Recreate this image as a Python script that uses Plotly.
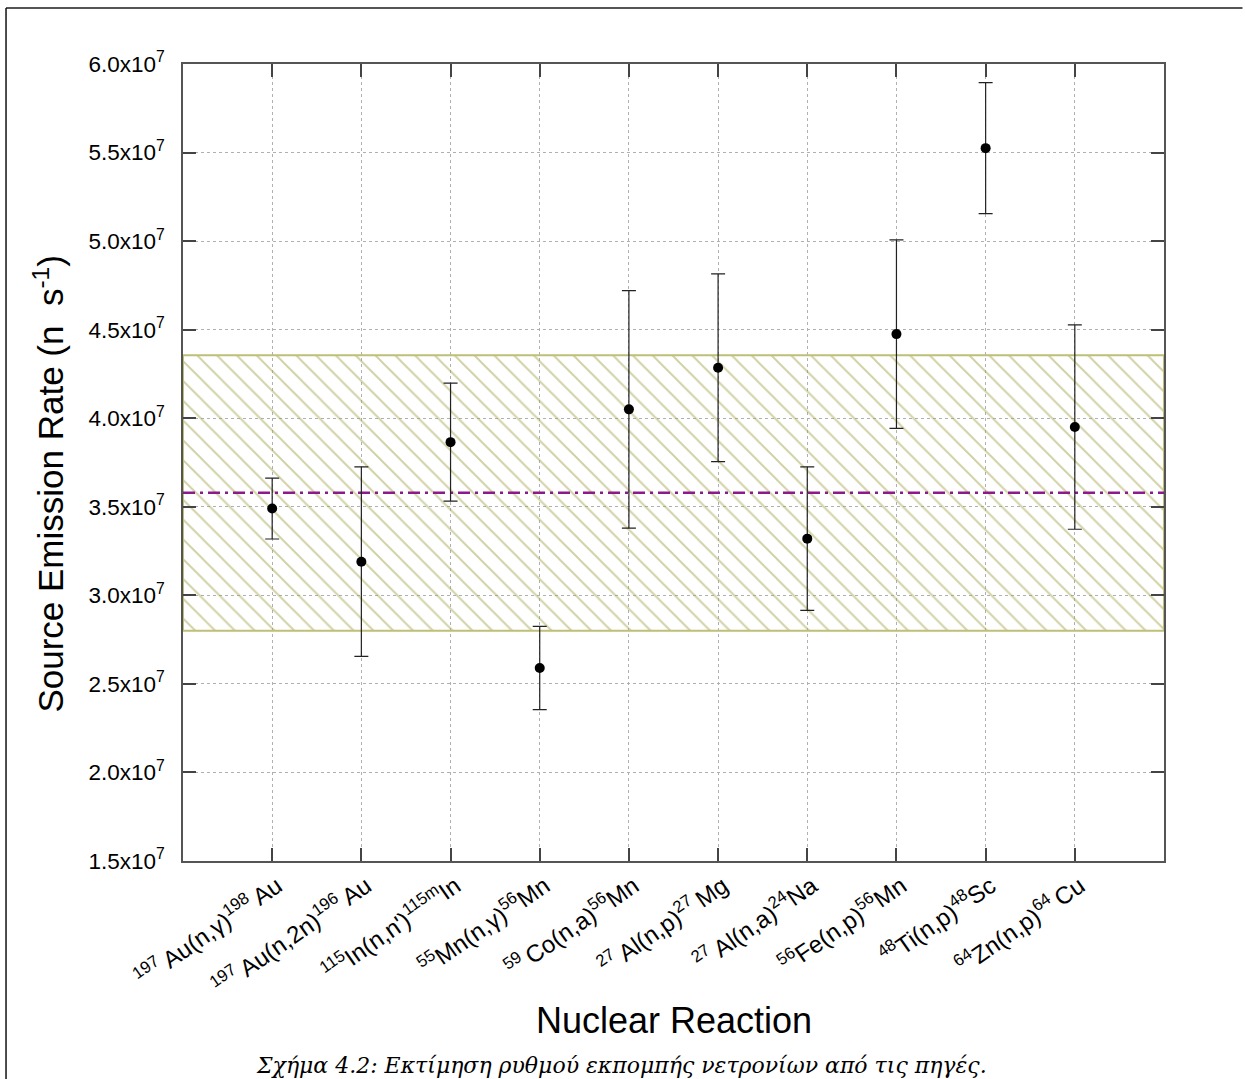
import plotly.graph_objects as go

# ---------------- data ----------------
reactions = [
    "<sup>197 </sup>Au(n,γ)<sup>198 </sup>Au",
    "<sup>197 </sup>Au(n,2n)<sup>196 </sup>Au",
    "<sup>115</sup>In(n,n')<sup>115m</sup>In",
    "<sup>55</sup>Mn(n,γ)<sup>56</sup>Mn",
    "<sup>59 </sup>Co(n,a)<sup>56</sup>Mn",
    "<sup>27 </sup>Al(n,p)<sup>27 </sup>Mg",
    "<sup>27 </sup>Al(n,a)<sup>24</sup>Na",
    "<sup>56</sup>Fe(n,p)<sup>56</sup>Mn",
    "<sup>48</sup>Ti(n,p)<sup>48</sup>Sc",
    "<sup>64</sup>Zn(n,p)<sup>64 </sup>Cu",
]
positions = [1, 2, 3, 4, 5, 6, 7, 8, 9, 10]
rates = [3.49e7, 3.19e7, 3.865e7, 2.59e7, 4.05e7, 4.285e7, 3.32e7, 4.475e7, 5.525e7, 3.95e7]
errors = [0.172e7, 0.535e7, 0.333e7, 0.235e7, 0.67e7, 0.53e7, 0.405e7, 0.532e7, 0.37e7, 0.577e7]

mean_rate = 3.579e7
band_low = 2.80e7
band_high = 4.355e7

y_tickvals = [1.5e7, 2.0e7, 2.5e7, 3.0e7, 3.5e7, 4.0e7, 4.5e7, 5.0e7, 5.5e7, 6.0e7]
y_ticktext = ["1.5x10<sup>7</sup>", "2.0x10<sup>7</sup>", "2.5x10<sup>7</sup>", "3.0x10<sup>7</sup>",
              "3.5x10<sup>7</sup>", "4.0x10<sup>7</sup>", "4.5x10<sup>7</sup>", "5.0x10<sup>7</sup>",
              "5.5x10<sup>7</sup>", "6.0x10<sup>7</sup>"]

x_range = [0, 11]
y_range = [1.5e7, 6.0e7]

x_title = "Nuclear Reaction"
y_title = "Source Emission Rate (n&nbsp; s<sup>-1</sup>)"
caption = "Σχήμα 4.2: Εκτίμηση ρυθμού εκπομπής νετρονίων από τις πηγές."

# ---------------- figure ----------------
fig = go.Figure()

# hatched band (mean ± spread)
fig.add_trace(go.Scatter(
    x=[x_range[0], x_range[1], x_range[1], x_range[0], x_range[0]],
    y=[band_low, band_low, band_high, band_high, band_low],
    mode="lines",
    fill="toself",
    fillcolor="rgba(0,0,0,0)",
    fillpattern=dict(shape="\\", size=14, solidity=0.14,
                     fgcolor="#a4a450", bgcolor="rgba(0,0,0,0)"),
    line=dict(color="#bfbf78", width=2),
    hoverinfo="skip",
    showlegend=False,
))

# mean line
fig.add_trace(go.Scatter(
    x=[x_range[0], x_range[1]],
    y=[mean_rate, mean_rate],
    mode="lines",
    line=dict(color="#8b1a8b", width=2.5, dash="12px,5px,3px,5px"),
    showlegend=False,
))

# data points with error bars
fig.add_trace(go.Scatter(
    x=positions,
    y=rates,
    mode="markers",
    marker=dict(color="black", size=10),
    error_y=dict(type="data", array=errors, visible=True,
                 color="#222222", thickness=1.2, width=7),
    showlegend=False,
))

axis_common = dict(
    showline=True, linecolor="#555555", linewidth=1.5, mirror="ticks",
    ticks="inside", ticklen=13, tickcolor="#444444", tickwidth=1.5,
    showgrid=True, gridcolor="#b0b0b0", gridwidth=1, griddash="dot",
    zeroline=False,
)

fig.update_xaxes(
    range=x_range, tickvals=positions, ticktext=reactions, tickangle=-35,
    tickfont=dict(family="Liberation Sans, Arial", size=24, color="black"),
    ticklabelshift=5,
    **axis_common,
)
fig.update_yaxes(
    range=y_range, tickvals=y_tickvals, ticktext=y_ticktext,
    tickfont=dict(family="Liberation Sans, Arial", size=22.5, color="black"),
    ticklabelstandoff=12,
    **axis_common,
)

annotations = [
    dict(text=x_title, xref="paper", yref="paper", x=0.5005, y=-0.1995,
         xanchor="center", yanchor="middle", showarrow=False,
         font=dict(family="Liberation Sans, Arial", size=36, color="black")),
    dict(text=y_title, xref="paper", yref="paper", x=-0.137, y=0.473,
         xanchor="center", yanchor="middle", showarrow=False, textangle=-90,
         font=dict(family="Liberation Sans, Arial", size=35, color="black")),
    dict(text="<i>" + caption + "</i>", xref="paper", yref="paper", x=0.4465, y=-0.2572,
         xanchor="center", yanchor="middle", showarrow=False,
         font=dict(family="DejaVu Serif", size=22, color="black")),
]

shapes = [
    dict(type="line", xref="paper", yref="paper", x0=-0.1804, x1=1.08, y0=1.0703, y1=1.0703,
         line=dict(color="#555555", width=2)),
    dict(type="line", xref="paper", yref="paper", x0=-0.1804, x1=-0.1804, y0=1.0703, y1=-0.28,
         line=dict(color="#111111", width=1.5)),
]

fig.update_layout(
    width=1245, height=1079,
    margin=dict(l=183, r=81, t=64, b=218),
    paper_bgcolor="white", plot_bgcolor="white",
    annotations=annotations, shapes=shapes,
    showlegend=False,
)

fig.write_html("out.html")
